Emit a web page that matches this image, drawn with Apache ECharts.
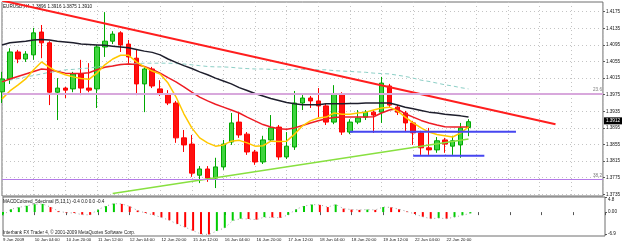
<!DOCTYPE html>
<html>
<head>
<meta charset="utf-8">
<script src="https://cdn.jsdelivr.net/npm/echarts@6/dist/echarts.min.js"></script>
<style>
  html, body { margin: 0; padding: 0; background: #fff; }
  #chart { width: 625px; height: 245px; }
</style>
</head>
<body>
<div id="chart"></div>
<script>
// 图表文字
const symbolTitle = 'EURUSD,H4  1.3896 1.3916 1.3875 1.3910';
const macdTitle = 'MACDColored_5decimal (5,13,1) -0.4 0.0 0.0 -0.4';
const footerText = 'Interbank FX Trader 4, \u00a9 2001-2009 MetaQuotes Software Corp.';

// 时间轴：每4根K线一个标签
const timeLabels = ['9 Jun 2009', '10 Jun 04:00', '10 Jun 20:00', '11 Jun 12:00', '12 Jun 04:00',
  '12 Jun 20:00', '15 Jun 12:00', '16 Jun 04:00', '16 Jun 20:00', '17 Jun 12:00',
  '18 Jun 04:00', '18 Jun 20:00', '19 Jun 12:00', '22 Jun 04:00', '22 Jun 20:00'];
const labelStep = 4;
const slotCount = 77; // 含右侧空白区

// K线 (H4)
const opens = [1.3982, 1.4013, 1.4078, 1.4061, 1.4071, 1.4126, 1.4100, 1.3981, 1.3991, 1.3989,
  1.4025, 1.3991, 1.3989, 1.4090, 1.4104, 1.4124, 1.4097, 1.4063, 1.4001, 1.4037,
  1.3989, 1.3977, 1.3955, 1.3871, 1.3856, 1.3781, 1.3796, 1.3774, 1.3801, 1.3861,
  1.3909, 1.3880, 1.3837, 1.3813, 1.3866, 1.3897, 1.3825, 1.3849, 1.3955, 1.3967,
  1.3960, 1.3948, 1.3909, 1.3977, 1.3885, 1.3909, 1.3921, 1.3933, 1.3933, 1.3996,
  1.3945, 1.3931, 1.3907, 1.3883, 1.3847, 1.3842, 1.3866, 1.3851, 1.3854, 1.3896];
const closes = [1.4013, 1.4078, 1.4061, 1.4073, 1.4124, 1.4100, 1.3981, 1.3991, 1.3986, 1.4025,
  1.3991, 1.3986, 1.4090, 1.4104, 1.4121, 1.4095, 1.4066, 1.4001, 1.4037, 1.3996,
  1.3977, 1.3955, 1.3871, 1.3854, 1.3786, 1.3796, 1.3774, 1.3801, 1.3856, 1.3907,
  1.3878, 1.3837, 1.3813, 1.3866, 1.3895, 1.3825, 1.3851, 1.3955, 1.3967, 1.3960,
  1.3948, 1.3909, 1.3977, 1.3885, 1.3909, 1.3919, 1.3933, 1.3926, 1.4003, 1.3950,
  1.3933, 1.3907, 1.3883, 1.3847, 1.3842, 1.3864, 1.3856, 1.3864, 1.3895, 1.3910];
const lows = [1.3955, 1.4001, 1.4051, 1.4054, 1.4059, 1.4063, 1.3950, 1.3914, 1.3967, 1.3981,
  1.3974, 1.3981, 1.3943, 1.4066, 1.4097, 1.4078, 1.4047, 1.3974, 1.3933, 1.3991,
  1.3972, 1.3950, 1.3859, 1.3837, 1.3777, 1.3762, 1.3765, 1.3750, 1.3794, 1.3854,
  1.3871, 1.3830, 1.3806, 1.3808, 1.3861, 1.3818, 1.3820, 1.3842, 1.3938, 1.3943,
  1.3921, 1.3902, 1.3904, 1.3878, 1.3880, 1.3904, 1.3914, 1.3883, 1.3907, 1.3943,
  1.3926, 1.3885, 1.3854, 1.3830, 1.3830, 1.3835, 1.3835, 1.3830, 1.3823, 1.3875];
const highs = [1.4030, 1.4087, 1.4083, 1.4080, 1.4136, 1.4143, 1.4104, 1.4015, 1.3994, 1.4030,
  1.4059, 1.4051, 1.4095, 1.4174, 1.4128, 1.4128, 1.4107, 1.4083, 1.4044, 1.4042,
  1.4010, 1.3986, 1.3960, 1.3890, 1.3878, 1.3803, 1.3803, 1.3823, 1.3866, 1.3931,
  1.3933, 1.3885, 1.3842, 1.3876, 1.3926, 1.3902, 1.3885, 1.3984, 1.3979, 1.3972,
  1.3991, 1.3953, 1.3998, 1.3981, 1.3916, 1.3938, 1.3938, 1.3938, 1.4018, 1.4001,
  1.3950, 1.3936, 1.3912, 1.3888, 1.3895, 1.3873, 1.3871, 1.3876, 1.3907, 1.3916];

// 均线
const maFast = [1.3965, 1.3984, 1.3998, 1.4013, 1.4035, 1.4054, 1.4041, 1.4030, 1.4023, 1.4018,
  1.4014, 1.4012, 1.4027, 1.4047, 1.4061, 1.4070, 1.4070, 1.4054, 1.4042, 1.4032,
  1.4025, 1.4003, 1.3970, 1.3929, 1.3895, 1.3871, 1.3859, 1.3851, 1.3854, 1.3863,
  1.3865, 1.3859, 1.3851, 1.3852, 1.3863, 1.3862, 1.3863, 1.3880, 1.3900, 1.3912,
  1.3919, 1.3921, 1.3931, 1.3928, 1.3928, 1.3931, 1.3933, 1.3938, 1.3943, 1.3945,
  1.3936, 1.3921, 1.3907, 1.3895, 1.3885, 1.3879, 1.3876, 1.3873, 1.3883, 1.3897];
const maMid = [1.4006, 1.4013, 1.4019, 1.4025, 1.4031, 1.4037, 1.4035, 1.4031, 1.4027, 1.4026,
  1.4026, 1.4028, 1.4035, 1.4041, 1.4044, 1.4048, 1.4049, 1.4048, 1.4043, 1.4036,
  1.4027, 1.4016, 1.4006, 1.3994, 1.3981, 1.3969, 1.3960, 1.3952, 1.3945, 1.3938,
  1.3931, 1.3921, 1.3912, 1.3903, 1.3897, 1.3893, 1.3892, 1.3895, 1.3901, 1.3907,
  1.3912, 1.3917, 1.3920, 1.3921, 1.3921, 1.3921, 1.3921, 1.3922, 1.3931, 1.3938,
  1.3941, 1.3929, 1.3921, 1.3913, 1.3907, 1.3902, 1.3898, 1.3897, 1.3897, 1.3897];
const maSlow = [1.4095, 1.4100, 1.4102, 1.4104, 1.4107, 1.4108, 1.4107, 1.4104, 1.4102, 1.4100,
  1.4097, 1.4096, 1.4095, 1.4094, 1.4092, 1.4090, 1.4088, 1.4084, 1.4080, 1.4077,
  1.4071, 1.4061, 1.4053, 1.4045, 1.4038, 1.4030, 1.4023, 1.4015, 1.4008, 1.4001,
  1.3992, 1.3985, 1.3978, 1.3972, 1.3966, 1.3961, 1.3956, 1.3953, 1.3951, 1.3951,
  1.3951, 1.3953, 1.3953, 1.3953, 1.3954, 1.3954, 1.3955, 1.3955, 1.3955, 1.3955,
  1.3950, 1.3945, 1.3941, 1.3937, 1.3933, 1.3931, 1.3928, 1.3926, 1.3924, 1.3921];
const maLong = [1.4006, 1.4010, 1.4014, 1.4018, 1.4021, 1.4025, 1.4029, 1.4031, 1.4035, 1.4036,
  1.4038, 1.4039, 1.4042, 1.4043, 1.4045, 1.4047, 1.4049, 1.4050, 1.4051, 1.4051,
  1.4051, 1.4051, 1.4050, 1.4049, 1.4047, 1.4045, 1.4043, 1.4042, 1.4042, 1.4041,
  1.4039, 1.4038, 1.4037, 1.4037, 1.4036, 1.4036, 1.4036, 1.4036, 1.4036, 1.4036,
  1.4035, 1.4035, 1.4033, 1.4032, 1.4031, 1.4030, 1.4029, 1.4027, 1.4026, 1.4025,
  1.4022, 1.4019, 1.4015, 1.4010, 1.4007, 1.4003, 1.3999, 1.3996, 1.3992, 1.3989];

// 画线对象 [K线序号, 价格]
const trendDown = [[0, 1.4202], [70, 1.3904]];
const trendUp = [[14, 1.3737], [59, 1.3868]];
const resistLine = [[44, 1.3886], [65, 1.3886]];
const supportLine = [[52, 1.3828], [61, 1.3828]];
const fibNames = ['23.6', '38.2'];
const fibPrices = [1.3978, 1.3772];

// 价格轴
const priceTicks = [1.4175, 1.4135, 1.4095, 1.4055, 1.4015, 1.3975, 1.3935, 1.3895, 1.3855, 1.3815, 1.3775, 1.3735];
const priceMin = 1.37309;
const priceMax = 1.41984;
const lastPrice = 1.3912;

// MACD 柱
const macdHist = [-1.0, 0.9, 1.5, 2.0, 2.5, 2.6, 1.6, 0.3, -0.2, -0.3,
  -0.8, -0.9, 0.8, 1.9, 2.7, 2.6, 1.8, 0.5, -0.3, -0.9,
  -1.7, -2.6, -3.8, -4.8, -5.9, -7.0, -7.1, -6.0, -5.0, -2.7,
  -2.1, -2.2, -2.4, -1.6, -1.7, -1.8, -0.9, 0.9, 1.9, 2.4,
  2.3, 1.6, 2.4, 1.1, 0.8, 0.7, 0.8, 0.7, 1.6, 1.5,
  0.9, 0.2, -0.6, -1.5, -2.1, -1.9, -2.1, -1.6, -1.0, -0.4];
const macdTicks = [0, -6.9];
const macdTopTick = [4.8];
const macdMin = -7.6;
const macdMax = 4.8;

const FONT = 'Liberation Sans';
const chart = echarts.init(document.getElementById('chart'));

const slots = Array.from({ length: slotCount }, (_, i) => String(i));
const candles = opens.map((o, i) => [o, closes[i], lows[i], highs[i]]);
const macdBars = macdHist.map((v, i) => ({
  value: v,
  itemStyle: { color: i === 0 || v >= macdHist[i - 1] ? '#00cc00' : '#ff0000' },
}));

function lineSeries(data, color, width, type) {
  return {
    type: 'line',
    xAxisIndex: 0,
    yAxisIndex: 0,
    data: data,
    symbol: 'none',
    silent: true,
    lineStyle: { color: color, width: width, type: type || 'solid' },
    z: 3,
  };
}

const trendSeries = lineSeries(trendDown, '#ff1e1e', 2);
// 斐波那契水平线
trendSeries.markLine = {
  silent: true,
  symbol: 'none',
  precision: 4,
  animation: false,
  data: fibPrices.map((p, i) => ({
    yAxis: p,
    lineStyle: { color: i === 0 ? '#d8a8dc' : '#b47ae8', width: i === 0 ? 2 : 1, type: 'solid' },
    label: {
      show: true,
      formatter: fibNames[i],
      position: 'insideEndTop',
      distance: 1,
      color: '#7a7a7a',
      fontSize: 4.6,
      fontFamily: FONT,
    },
  })),
};

const option = {
  animation: false,
  backgroundColor: '#ffffff',
  grid: [
    { left: 2, top: 2, width: 603, height: 194, show: true, borderColor: '#6e6e6e', borderWidth: 1 },
    { left: 2, top: 197, width: 603, height: 39, show: true, borderColor: '#6e6e6e', borderWidth: 1 },
  ],
  xAxis: [
    {
      type: 'category', gridIndex: 0, data: slots, boundaryGap: false,
      axisLine: { show: false }, axisTick: { show: false }, axisLabel: { show: false },
      splitLine: { show: true, interval: labelStep - 1, lineStyle: { color: '#c4c4c4', type: [1, 3], width: 1 } },
    },
    {
      type: 'category', gridIndex: 1, data: slots, boundaryGap: false,
      axisLine: { show: false },
      axisTick: { show: true, interval: labelStep - 1, length: 3, lineStyle: { color: '#555' } },
      splitLine: { show: false },
      axisLabel: {
        interval: labelStep - 1,
        align: 'left',
        margin: 2,
        fontSize: 4.3,
        fontFamily: FONT,
        color: '#111',
        formatter: (v, i) => timeLabels[i / labelStep] || '',
      },
    },
  ],
  yAxis: [
    {
      type: 'value', gridIndex: 0, position: 'right', min: priceMin, max: priceMax,
      axisLine: { show: false },
      axisTick: { show: true, customValues: priceTicks, length: 2, inside: false, lineStyle: { color: '#555' } },
      splitLine: { show: true, lineStyle: { color: '#c4c4c4', type: [1, 3], width: 1 } },
      axisLabel: {
        customValues: priceTicks, formatter: (v) => v.toFixed(4),
        fontSize: 4.6, fontFamily: FONT, color: '#111', margin: 3,
      },
    },
    {
      type: 'value', gridIndex: 0, position: 'right', min: priceMin, max: priceMax,
      axisLine: { show: false }, axisTick: { show: false }, splitLine: { show: false },
      axisLabel: {
        customValues: [lastPrice], formatter: (v) => v.toFixed(4),
        fontSize: 4.6, fontFamily: FONT, color: '#ffffff', backgroundColor: '#000000',
        padding: [1, 2, 1, 2], margin: 1,
      },
    },
    {
      type: 'value', gridIndex: 1, position: 'right', min: macdMin, max: macdMax,
      axisLine: { show: false },
      axisTick: { show: true, customValues: macdTicks.concat(macdTopTick), length: 2, lineStyle: { color: '#555' } },
      splitLine: { show: false },
      axisLabel: {
        customValues: macdTicks, formatter: (v) => (v === 0 ? '0.00' : v.toFixed(1)),
        fontSize: 4.6, fontFamily: FONT, color: '#111', margin: 3,
      },
    },
    {
      type: 'value', gridIndex: 1, position: 'right', min: macdMin, max: macdMax,
      axisLine: { show: false }, axisTick: { show: false }, splitLine: { show: false },
      axisLabel: {
        customValues: macdTopTick, formatter: (v) => v.toFixed(1), verticalAlign: 'top',
        fontSize: 4.6, fontFamily: FONT, color: '#111', margin: 3,
      },
    },
  ],
  series: [
    {
      type: 'candlestick',
      xAxisIndex: 0,
      yAxisIndex: 0,
      data: candles,
      barWidth: 5,
      silent: true,
      z: 2,
      itemStyle: {
        color: '#3fd43f',
        color0: '#ff1010',
        borderColor: '#00a800',
        borderColor0: '#ff0000',
        borderWidth: 1,
      },
    },
    lineSeries(maLong, '#8ccfc6', 1, [4, 3]),
    lineSeries(maSlow, '#1e1e2c', 1.5),
    lineSeries(maMid, '#ee1c24', 1.5),
    lineSeries(maFast, '#ffc800', 1.5),
    lineSeries(trendUp, '#88e040', 1.5),
    trendSeries,
    lineSeries(resistLine, '#4646f0', 2),
    lineSeries(supportLine, '#4646f0', 2),
    {
      type: 'bar',
      xAxisIndex: 1,
      yAxisIndex: 2,
      data: macdBars,
      barWidth: 2,
      silent: true,
    },
    {
      type: 'line',
      xAxisIndex: 1,
      yAxisIndex: 2,
      data: macdHist,
      symbol: 'none',
      silent: true,
      lineStyle: { color: '#a0a0a0', width: 1, type: [1, 3] },
    },
  ],
  graphic: [
    { type: 'text', left: 3, top: 4, style: { text: symbolTitle, font: '4.6px "' + FONT + '"', fill: '#111' } },
    { type: 'text', left: 3, top: 199, style: { text: macdTitle, font: '4.6px "' + FONT + '"', fill: '#111' } },
    { type: 'text', left: 3, top: 230, style: { text: footerText, font: '4.6px "' + FONT + '"', fill: '#222' } },
  ],
};

chart.setOption(option);
</script>
</body>
</html>
